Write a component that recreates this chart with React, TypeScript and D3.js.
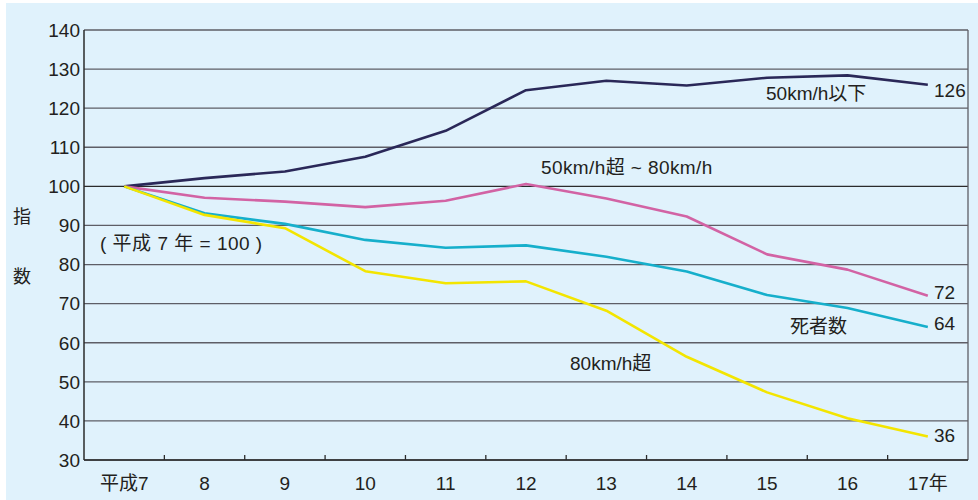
import React from "react";
import * as d3 from "d3";

// 平成7年 = 100 とした指数の推移
const years = ["平成7", "8", "9", "10", "11", "12", "13", "14", "15", "16", "17年"];
const under50 = [100, 102.1, 103.8, 107.6, 114.2, 124.6, 127.0, 125.8, 127.8, 128.4, 126];
const from50to80 = [100, 97.1, 96.1, 94.7, 96.3, 100.6, 96.9, 92.3, 82.6, 78.7, 72];
const deaths = [100, 93.1, 90.4, 86.3, 84.3, 84.9, 82.0, 78.2, 72.2, 68.9, 64];
const over80 = [100, 92.7, 89.3, 78.3, 75.2, 75.7, 68.2, 56.4, 47.3, 40.7, 36];
const yTicks = [30, 40, 50, 60, 70, 80, 90, 100, 110, 120, 130, 140];

const W = 978;
const H = 500;
const left = 84;
const right = 968;
const top = 30;
const bottom = 460;

const LATIN = "'Liberation Sans', Arial, 'Noto Sans CJK JP', sans-serif";
const CJK = "'Noto Sans CJK JP', sans-serif";
const TEXT = "#231f20";
const FS = 19;

export default function App() {
  const x = d3.scaleBand<string>().domain(years).range([left, right]).padding(0);
  const y = d3.scaleLinear().domain([30, 140]).range([bottom, top]);
  const cx = (i: number) => (x(years[i]) as number) + x.bandwidth() / 2;
  const line = d3
    .line<number>()
    .x((_, i) => cx(i))
    .y((d) => y(d));

  const series = [
    { values: under50, color: "#2a2858" },
    { values: from50to80, color: "#d263a4" },
    { values: deaths, color: "#16afcb" },
    { values: over80, color: "#f3e500" },
  ];

  // end-of-line value labels, nudged off the line ends
  const last = years.length - 1;
  const endLabels = [
    { v: under50[last], text: "126", dy: 5 },
    { v: from50to80[last], text: "72", dy: -3.5 },
    { v: deaths[last], text: "64", dy: -3.5 },
    { v: over80[last], text: "36", dy: -1.5 },
  ];

  return (
    <svg
      width={W}
      height={H}
      style={{ position: "absolute", left: 0, top: 0 }}
      fontFamily={LATIN}
    >
      <rect x={0} y={0} width={W} height={H} fill="#ffffff" />
      <rect x={6} y={3} width={W - 6} height={H - 3} fill="#e0f2fc" />

      {/* gridlines */}
      {yTicks.map((t) => (
        <line
          key={t}
          x1={left}
          x2={right}
          y1={y(t)}
          y2={y(t)}
          stroke={t === 100 ? "#2b2b2b" : "#5e5e66"}
          strokeWidth={1.3}
        />
      ))}

      {/* frame */}
      <line x1={left} x2={left} y1={top} y2={bottom} stroke="#2b2b2b" strokeWidth={1.5} />
      <line x1={right} x2={right} y1={top} y2={bottom} stroke="#5e5e66" strokeWidth={1.3} />
      <line x1={left} x2={right} y1={bottom} y2={bottom} stroke="#2b2b2b" strokeWidth={1.5} />

      {/* x ticks at band boundaries */}
      {years.slice(1).map((yr) => {
        const px = x(yr) as number;
        return (
          <line key={yr} x1={px} x2={px} y1={bottom} y2={bottom - 5} stroke="#2b2b2b" strokeWidth={1.3} />
        );
      })}

      {/* y tick labels */}
      {yTicks.map((t) => (
        <text
          key={t}
          x={80}
          y={y(t)}
          dy="0.36em"
          textAnchor="end"
          fontSize={FS}
          fill={TEXT}
        >
          {t}
        </text>
      ))}

      {/* x labels */}
      {years.map((yr, i) => (
        <text
          key={yr}
          x={cx(i)}
          y={483}
          dy="0.36em"
          textAnchor="middle"
          fontSize={FS}
          fill={TEXT}
        >
          {yr}
        </text>
      ))}

      {/* y axis title */}
      <text x={22} y={217} dy="0.36em" textAnchor="middle" fontSize={18} fill={TEXT} fontFamily={CJK}>指</text>
      <text x={22} y={277} dy="0.36em" textAnchor="middle" fontSize={18} fill={TEXT} fontFamily={CJK}>数</text>

      {/* series */}
      {series.map((s, i) => (
        <path
          key={i}
          d={line(s.values) ?? ""}
          fill="none"
          stroke={s.color}
          strokeWidth={2.6}
          strokeLinejoin="round"
        />
      ))}

      {/* end values */}
      {endLabels.map((l) => (
        <text key={l.text} x={934} y={y(l.v) + l.dy} dy="0.36em" fontSize={FS} fill={TEXT}>
          {l.text}
        </text>
      ))}

      {/* series names */}
      <text x={766} y={93} dy="0.36em" fontSize={FS} fill={TEXT}>50km/h以下</text>
      <text x={541} y={167} dy="0.36em" fontSize={FS} fill={TEXT} letterSpacing={0.4}>50km/h超 ~ 80km/h</text>
      <text x={790} y={326} dy="0.36em" fontSize={FS} fill={TEXT} fontFamily={CJK}>死者数</text>
      <text x={570} y={363} dy="0.36em" fontSize={FS} fill={TEXT}>80km/h超</text>
      <text x={100} y={243} dy="0.36em" fontSize={FS} fill={TEXT} xmlSpace="preserve" letterSpacing={0.5}>( 平成 7 年 = 100 )</text>
    </svg>
  );
}
